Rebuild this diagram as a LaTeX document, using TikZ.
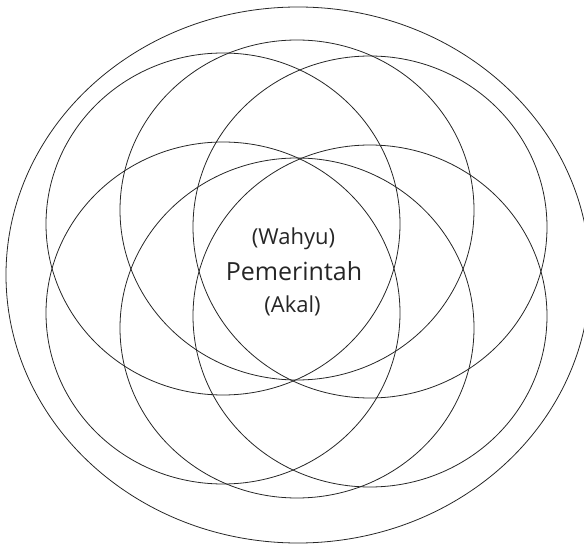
\documentclass[tikz,border=0pt]{standalone}
\usepackage{fontspec}
\newfontfamily\labelfont{Open Sans}

\begin{document}
\begin{tikzpicture}[x=1pt, y=-1pt, ring/.style={draw=black!85, line width=0.8pt},
  txt/.style={anchor=base, inner sep=0pt, text=black!85}]
  \useasboundingbox (0,0) rectangle (584,545);
  \clip (0,0) rectangle (584,545);
  % outer ring
  \draw[ring] (298,275) ellipse [x radius=292, y radius=268];
  % upper row
  \draw[ring] (223,224) ellipse [x radius=177, y radius=171];
  \draw[ring] (297,210) ellipse [x radius=177, y radius=170];
  \draw[ring] (370,227) ellipse [x radius=177, y radius=171];
  % lower row
  \draw[ring] (223,313) ellipse [x radius=177, y radius=171];
  \draw[ring] (297,328) ellipse [x radius=177, y radius=170];
  \draw[ring] (370,316) ellipse [x radius=177, y radius=171];
  % centre labels
  \node[txt, font=\labelfont\fontsize{22}{26}\selectfont] (wahyu) at (293.5,245) {(Wahyu)};
  \node[txt, font=\labelfont\fontsize{25}{30}\selectfont] (pemerintah) at (294,281) {Pemerintah};
  \node[txt, font=\labelfont\fontsize{22}{26}\selectfont] (akal) at (292.5,313) {(Akal)};
\end{tikzpicture}
\end{document}
